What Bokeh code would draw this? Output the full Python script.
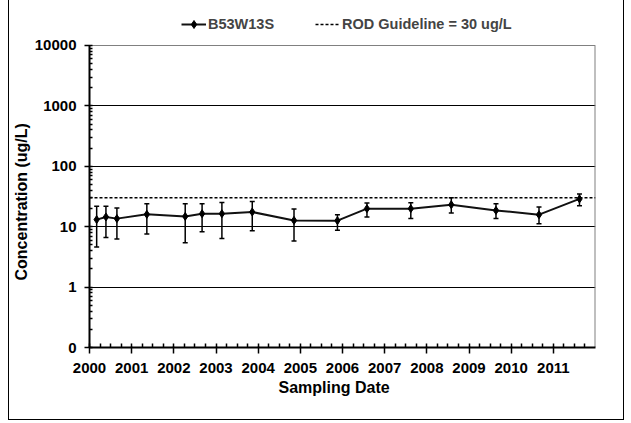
from bokeh.plotting import figure
from bokeh.models import (Range1d, FixedTicker, ColumnDataSource, Whisker, TeeHead,
                          Legend, LegendItem, Title, CustomJSTickFormatter)
from bokeh.embed import file_html
from bokeh.resources import INLINE

# ---- data ----
dates = [2000.17, 2000.39, 2000.65, 2001.36, 2002.27, 2002.67, 2003.14, 2003.86,
         2004.85, 2005.88, 2006.58, 2007.62, 2008.58, 2009.64, 2010.66, 2011.62]
conc = [13.1, 14.5, 13.6, 16.0, 14.8, 16.4, 16.4, 17.5,
        12.7, 12.6, 19.9, 19.9, 23.1, 18.6, 15.8, 28.8]
upper = [21.7, 21.7, 20.4, 24.0, 24.0, 24.0, 25.2, 26.2,
         19.6, 15.8, 24.6, 24.9, 30.2, 24.0, 21.2, 34.8]
lower = [4.6, 6.65, 6.25, 7.57, 5.43, 8.26, 6.4, 8.6,
         5.8, 8.7, 14.5, 13.7, 16.9, 13.7, 11.2, 22.3]
guideline = 30
series_name = "B53W13S"
guide_name = "ROD Guideline = 30 ug/L"
x_start, x_end = 2000, 2012
year_ticks = list(range(2000, 2012))
y_ticks = [0.1, 1, 10, 100, 1000, 10000]
y_labels = ["0", "1", "10", "100", "1000", "10000"]
y_top_room = 45900  # headroom above 10000 that holds the legend

FONT = "Liberation Sans"
W, H = 616, 420

p = figure(width=W, height=H, y_axis_type="log",
           x_range=Range1d(x_start, x_end), y_range=Range1d(y_ticks[0], y_top_room),
           output_backend="svg", toolbar_location=None,
           min_border_left=74, min_border_right=30, min_border_top=5, min_border_bottom=73)
p.styles = {"margin-left": "8px", "border-left": "1px solid black",
            "border-right": "1px solid black", "border-bottom": "1px solid black"}
p.outline_line_color = None

# grid
p.xgrid.visible = False
p.ygrid.ticker = FixedTicker(ticks=y_ticks[1:-1])
p.ygrid.grid_line_color = "black"
p.ygrid.grid_line_width = 1.2

# plot-area border (top and right, grey)
p.line([x_start, x_end], [y_ticks[-1], y_ticks[-1]], line_color="#808080", line_width=1.2)
p.line([x_end, x_end], [y_ticks[0], y_ticks[-1]], line_color="#808080", line_width=2)

# x axis
xminor = [y + q / 4 for y in year_ticks for q in range(4)]
p.xaxis.ticker = FixedTicker(ticks=year_ticks, minor_ticks=xminor)
p.xaxis.major_tick_in = 1
p.xaxis.major_tick_out = 6
p.xaxis.minor_tick_in = 4
p.xaxis.minor_tick_out = 0
p.xaxis.major_label_standoff = 9

# y axis
yminor = [m * d for d in [0.1, 1, 10, 100, 1000] for m in range(2, 10)]
p.yaxis.ticker = FixedTicker(ticks=y_ticks, minor_ticks=yminor)
p.yaxis.bounds = (y_ticks[0], y_ticks[-1])
p.yaxis.formatter = CustomJSTickFormatter(
    args=dict(tvals=y_ticks, tlabels=y_labels),
    code="""
    for (let i = 0; i < tvals.length; i++) {
        if (Math.abs(tick - tvals[i]) < 1e-6 * tvals[i]) return tlabels[i];
    }
    return "";
    """)
p.yaxis.major_tick_in = 3
p.yaxis.major_tick_out = 5
p.yaxis.minor_tick_in = 3
p.yaxis.minor_tick_out = 0
p.yaxis.major_label_standoff = 8

for ax in [p.xaxis, p.yaxis]:
    ax.axis_line_color = "black"
    ax.axis_line_width = 2
    ax.major_tick_line_color = "black"
    ax.major_tick_line_width = 1.5
    ax.minor_tick_line_color = "black"
    ax.minor_tick_line_width = 1.5
    ax.major_label_text_font = FONT
    ax.major_label_text_font_style = "bold"
    ax.major_label_text_font_size = "15px"
    ax.major_label_text_color = "black"

# guideline
g_r = p.line([x_start, x_end], [guideline, guideline], line_color="black",
             line_width=1.5, line_dash="3 2")

# data
src = ColumnDataSource(dict(x=dates, y=conc, up=upper, lo=lower))
p.add_layout(Whisker(source=src, base="x", upper="up", lower="lo",
                     line_color="black", line_width=1.5,
                     upper_head=TeeHead(size=5, line_color="black", line_width=1.5),
                     lower_head=TeeHead(size=5, line_color="black", line_width=1.5)))
l_r = p.line("x", "y", source=src, line_color="#111111", line_width=2)
s_r = p.scatter("x", "y", source=src, marker="diamond", size=8,
                fill_color="black", line_color="black")

legend = Legend(items=[LegendItem(label=series_name, renderers=[l_r, s_r]),
                       LegendItem(label=guide_name, renderers=[g_r])],
                orientation="horizontal", location=(92, 313),
                border_line_color=None, background_fill_alpha=0,
                label_text_font=FONT, label_text_font_style="bold",
                label_text_font_size="14.5px", glyph_width=25, label_standoff=2,
                spacing=41, padding=0, margin=0)
p.add_layout(legend)

yt = Title(text="Concentration (ug/L)", align="left", offset=67, standoff=3,
           text_font=FONT, text_font_style="bold", text_font_size="16px",
           text_color="black")
p.add_layout(yt, "left")

xt = Title(text="Sampling Date", align="left", offset=189, standoff=2,
           text_font=FONT, text_font_style="bold", text_font_size="16px",
           text_color="black")
p.add_layout(xt, "below")

open("out.html", "w").write(file_html(p, INLINE))
